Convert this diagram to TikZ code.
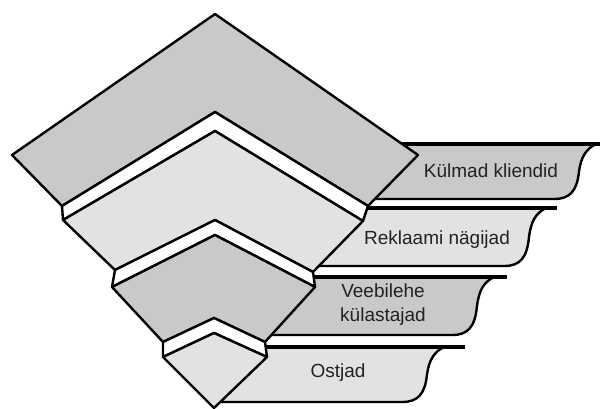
\documentclass[tikz,border=0pt]{standalone}
\usepackage{fontspec}
\setmainfont{Liberation Sans}
\definecolor{gA}{HTML}{C9C9C9}
\definecolor{gB}{HTML}{E2E2E2}
\definecolor{txt}{HTML}{222222}
\newcommand\mybanner[5]{%
  \fill[#5] (215,#1) -- (#3,#1) .. controls ({#3-10},{#1+5}) and ({#3-15},{#1+13}) .. ({#3-17},{(#1+#2)/2}) .. controls ({#3-19},{#2-8}) and ({#3-26},#2) .. ({#3-42},#2) -- (215,#2) -- cycle;
  \draw[edge] (#3,#1) .. controls ({#3-10},{#1+5}) and ({#3-15},{#1+13}) .. ({#3-17},{(#1+#2)/2}) .. controls ({#3-19},{#2-8}) and ({#3-26},#2) .. ({#3-42},#2) -- (215,#2);
  \draw[topline] (215,#1) -- (#4,#1);}
\begin{document}
\begin{tikzpicture}[x=1pt,y=-1pt,line join=round,
  edge/.style={draw=black,line width=2.4pt},
  topline/.style={draw=black,line width=3.4pt},
  lab/.style={text=txt,font=\fontsize{19}{24}\selectfont,inner sep=0pt}]
\useasboundingbox (0,0) rectangle (605,409);
% banners
\mybanner{144}{199}{596}{600}{gA}
\mybanner{208}{266}{546}{557}{gB}
\mybanner{277}{335}{494}{507}{gA}
\mybanner{347}{402}{444}{465}{gB}
% chevrons
\draw[edge,fill=gA] (215,14) -- (418,155) -- (368,206) -- (215,112) -- (62,206) -- (12,155) -- cycle;
\draw[edge,fill=white] (62,206) -- (215,112) -- (368,206) -- (363,221) -- (215,131) -- (63,220) -- cycle;
\draw[edge,fill=gB] (215,131) -- (363,221) -- (313,272) -- (215,220) -- (115,270) -- (63,220) -- cycle;
\draw[edge,fill=white] (115,270) -- (215,220) -- (313,272) -- (315,287) -- (215,235) -- (112,287) -- cycle;
\draw[edge,fill=gA] (215,235) -- (315,287) -- (265,342) -- (214,318) -- (163,342) -- (112,287) -- cycle;
\draw[edge,fill=white] (163,342) -- (214,318) -- (265,342) -- (267,357) -- (214,333) -- (163,357) -- cycle;
\draw[edge,fill=gB] (214,333) -- (267,357) -- (214,408) -- (163,357) -- cycle;
% labels
\node[lab] (t1) at (491,171) {Külmad kliendid};
\node[lab] (t2) at (437,240) {Reklaami nägijad};
\node[lab,align=center] (t3) at (383,305) {Veebilehe\\külastajad};
\node[lab] (t4) at (338,373) {Ostjad};
\end{tikzpicture}
\end{document}
